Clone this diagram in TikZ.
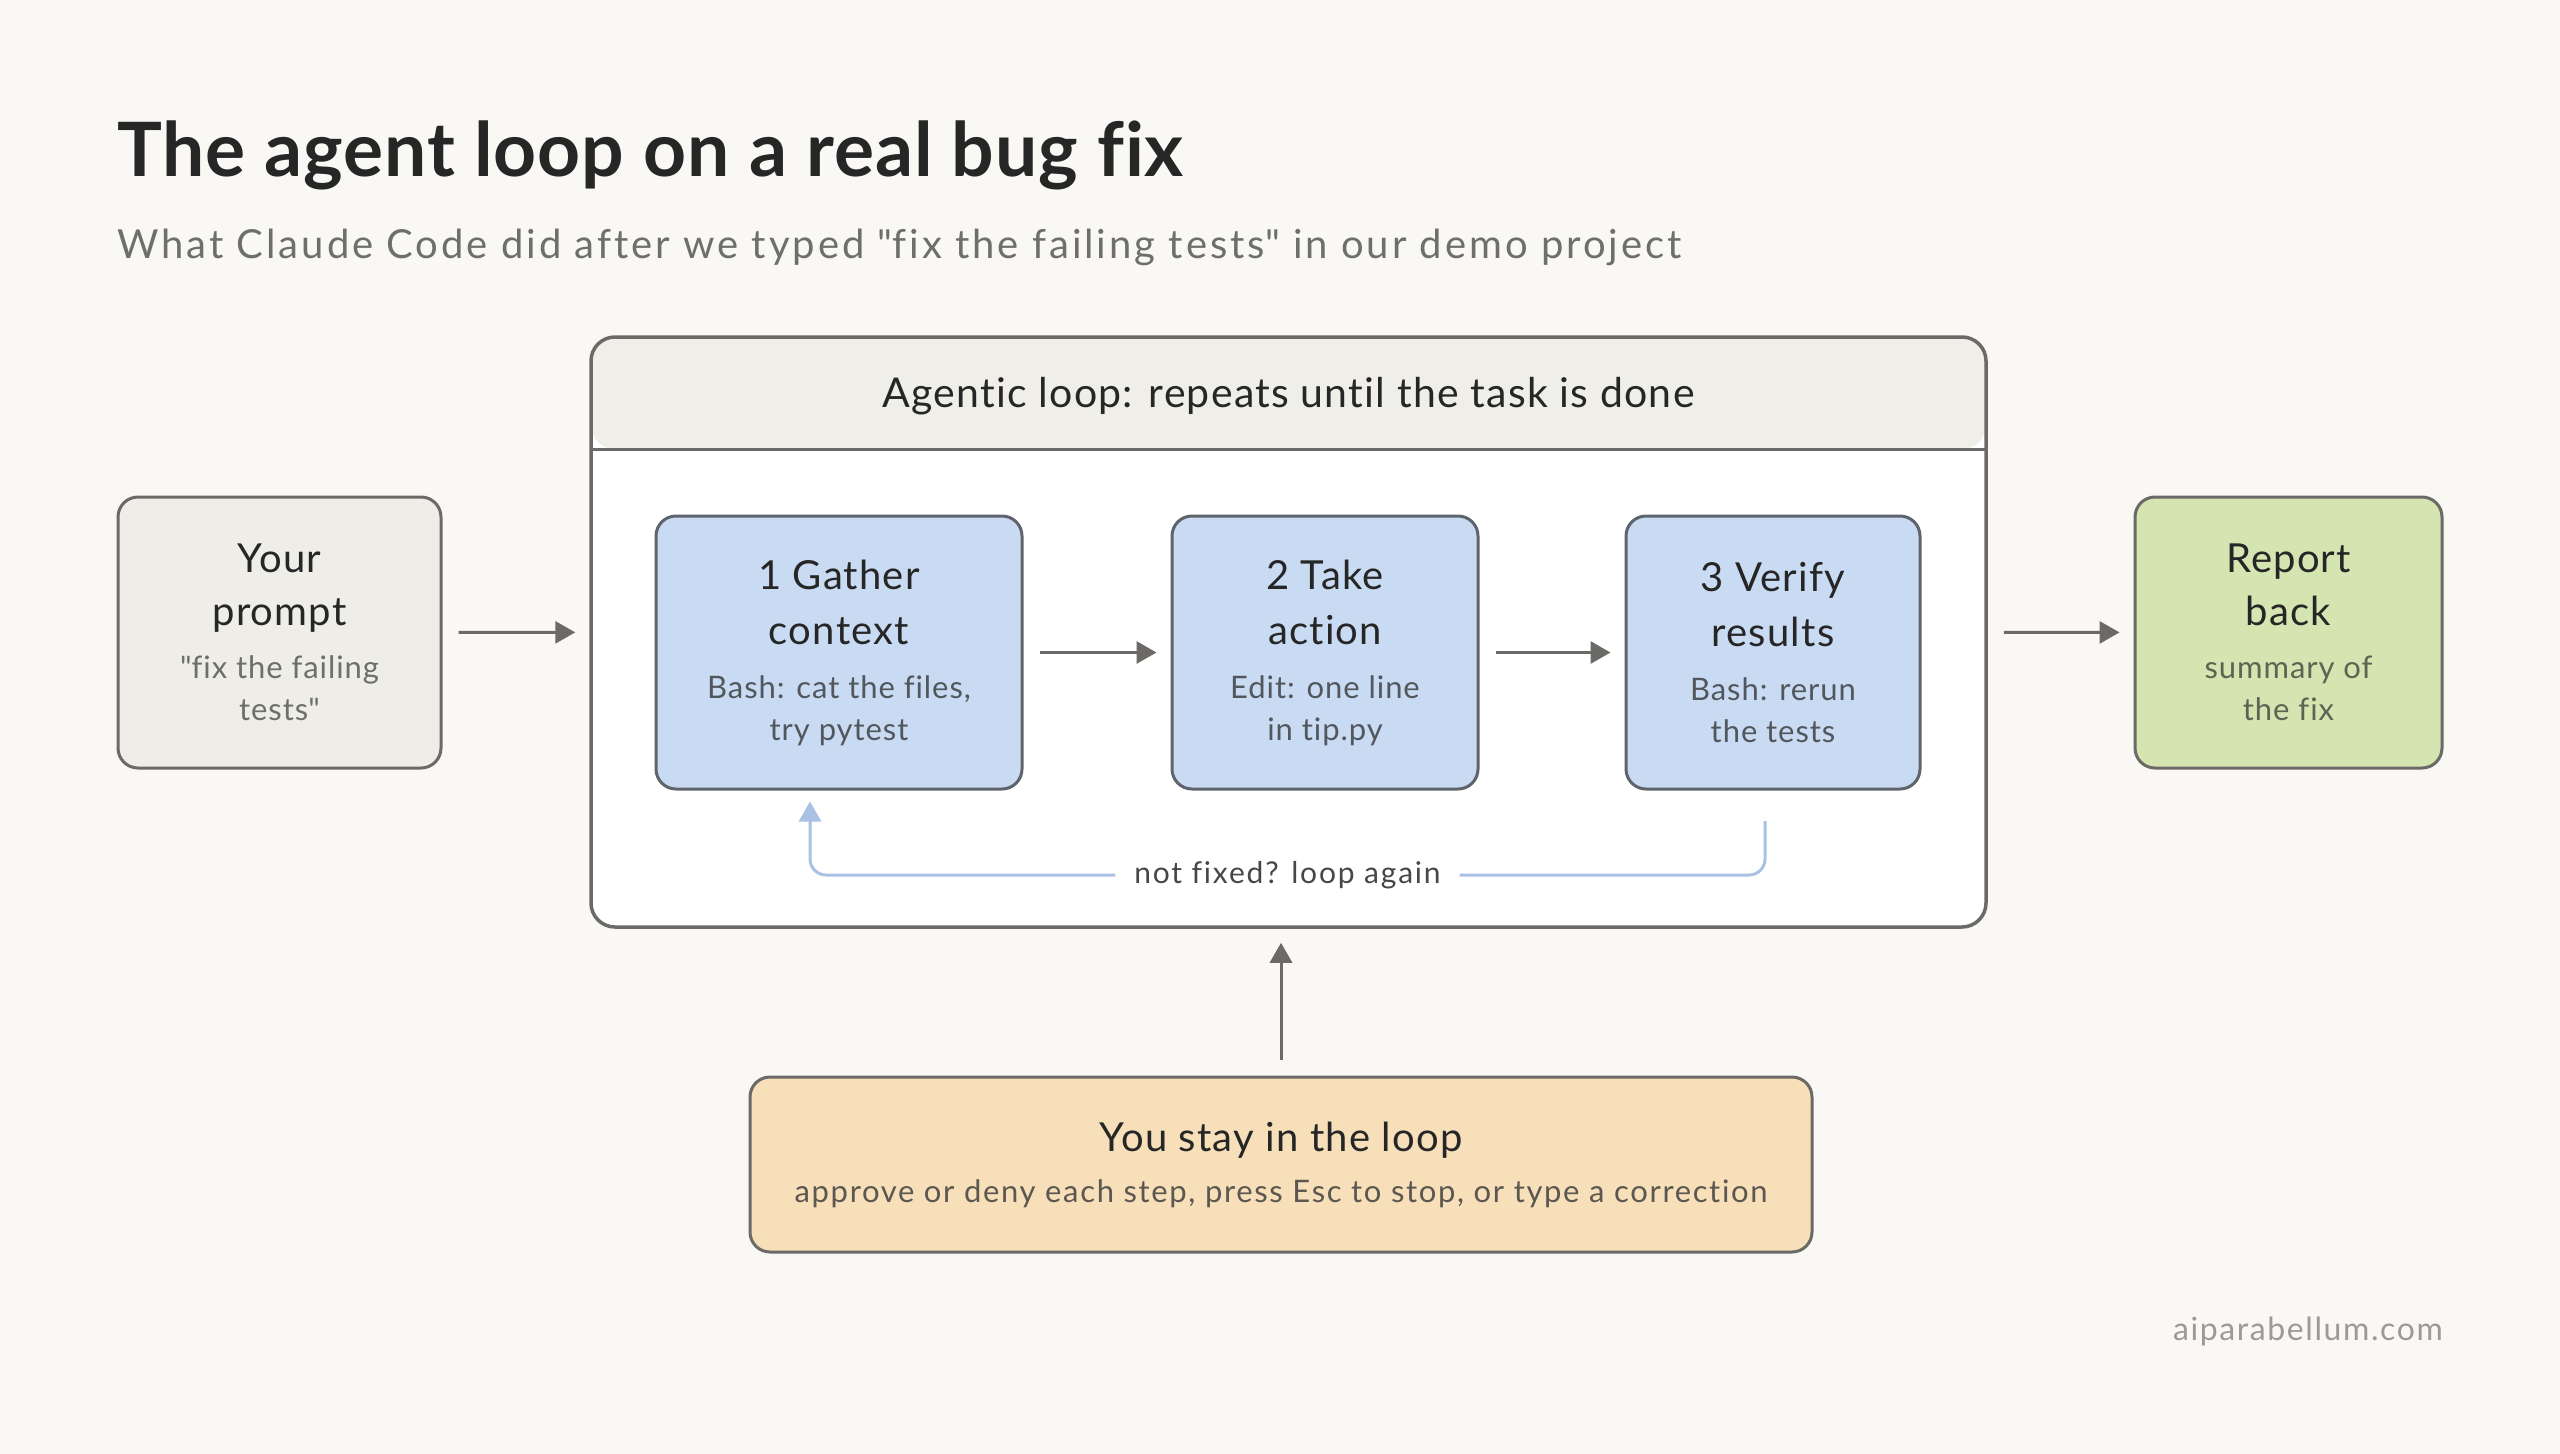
\documentclass[tikz,border=0pt]{standalone}
\usepackage{fontspec}
\setmainfont{Lato}[LetterSpace=3, Ligatures=NoCommon]
\usetikzlibrary{arrows.meta}

\definecolor{paper}{HTML}{F9F8F4}
\definecolor{ink}{HTML}{262626}
\definecolor{greytext}{HTML}{6E6E6A}
\definecolor{boxline}{HTML}{6B6A66}
\definecolor{promptfill}{HTML}{EEEDE7}
\definecolor{headfill}{HTML}{EFEEE8}
\definecolor{stepfill}{HTML}{C9DBF3}
\definecolor{stepline}{HTML}{5F646C}
\definecolor{steptext}{HTML}{52575E}
\definecolor{reportfill}{HTML}{D5E5B2}
\definecolor{reporttext}{HTML}{5B6552}
\definecolor{youfill}{HTML}{F6DFB9}
\definecolor{youtext}{HTML}{5C5750}
\definecolor{backline}{HTML}{A9C1E3}
\definecolor{webtext}{HTML}{9B9A96}

\newcommand\headtxt{\fontsize{40}{42}\selectfont\color{ink}}
\newcommand\subtxt{\fontsize{31}{42}\selectfont}
\newcommand\wide[1]{\addfontfeatures{LetterSpace=#1}}

\begin{document}
\begin{tikzpicture}[x=1pt, y=-1pt,
  box/.style={draw=boxline, line width=3pt, rounded corners=20pt, align=center, inner sep=0pt, font=\subtxt},
  stepbox/.style={box, draw=stepline, fill=stepfill, minimum height=273pt, text=steptext},
  arr/.style={-{Triangle[length=20pt,width=22pt]}, line width=3pt, draw=boxline, shorten <=16pt, shorten >=14pt}]
\useasboundingbox[fill=paper] (0,0) rectangle (2560,1454);
\node[anchor=base west, font=\fontsize{75}{80}\selectfont\bfseries\wide{1.2}, text=ink, inner sep=0pt] (T_main) at (117,176) {The agent loop on a real bug fix};
\node[anchor=base west, font=\fontsize{40}{44}\selectfont\wide{7.4}, text=greytext, inner sep=0pt] (T_sub) at (117,258) {What Claude Code did after we typed \textquotedbl fix the failing tests\textquotedbl{} in our demo project};
\node[box, fill=white, line width=3.5pt, rounded corners=24pt, minimum width=1395pt, minimum height=590pt,
  path picture={\fill[headfill] (path picture bounding box.north west) rectangle ([yshift=-112pt]path picture bounding box.north east);
    \draw[boxline, line width=3pt] ([yshift=-112pt]path picture bounding box.north west) -- ([yshift=-112pt]path picture bounding box.north east);}]
  (P_loop) at (1288.5,632) {};
\node[anchor=base, font=\fontsize{41}{44}\selectfont, text=ink] (P_head) at (1288.5,407) {Agentic loop: repeats until the task is done};
\node[box, fill=promptfill, minimum width=323pt, minimum height=271pt, text=greytext] (P_in) at (279.5,632.5)
  {{\headtxt Your}\\[11pt]{\headtxt prompt}\\[11pt]\textquotedbl fix the failing\\tests\textquotedbl};
\draw[arr] (P_in) -- (P_loop);
\node[stepbox, minimum width=366pt] (P_1) at (839,652.5)
  {{\headtxt 1 Gather}\\[13pt]{\headtxt context}\\[12pt]Bash: cat the files,\\try pytest};
\node[stepbox, minimum width=306pt] (P_2) at (1325,652.5)
  {{\headtxt 2 Take}\\[13pt]{\headtxt action}\\[12pt]Edit: one line\\in tip.py};
\node[stepbox, minimum width=294pt] (P_3) at (1773,652.5)
  {{\headtxt 3 Verify}\\[13pt]{\headtxt results}\\[12pt]Bash: rerun\\the tests};
\draw[arr] (P_1) -- (P_2);
\draw[arr] (P_2) -- (P_3);
\coordinate (C_3) at (1765,821);
\coordinate (C_1) at (810,875);
\draw[backline, line width=3pt, rounded corners=16pt, -{Triangle[length=20pt,width=22pt]}, shorten >=11pt]
  (C_3) |- node[pos=0.75, fill=white, inner xsep=19pt, font=\fontsize{30}{34}\selectfont\wide{6}, text=ink!85] (P_again) {not fixed? loop again}
  (C_1) -- (P_1.south -| C_1);
\node[box, fill=reportfill, minimum width=307pt, minimum height=271pt, text=reporttext] (P_out) at (2288.5,632.5)
  {{\headtxt Report}\\[11pt]{\headtxt back}\\[11pt]summary of\\the fix};
\draw[arr] (P_loop) -- (P_out);
\node[box, fill=youfill, minimum width=1062pt, minimum height=175pt, text=youtext] (P_you) at (1281,1164.5)
  {{\headtxt You stay in the loop}\\[9pt]{\wide{5.3}approve or deny each step, press Esc to stop, or type a correction}};
\draw[arr] (P_you.north) -- (P_you.north |- P_loop.south);
\node[anchor=base east, font=\fontsize{32}{36}\selectfont\wide{5}, text=webtext, inner sep=0pt] (T_web) at (2443,1340) {aiparabellum.com};
\end{tikzpicture}
\end{document}
